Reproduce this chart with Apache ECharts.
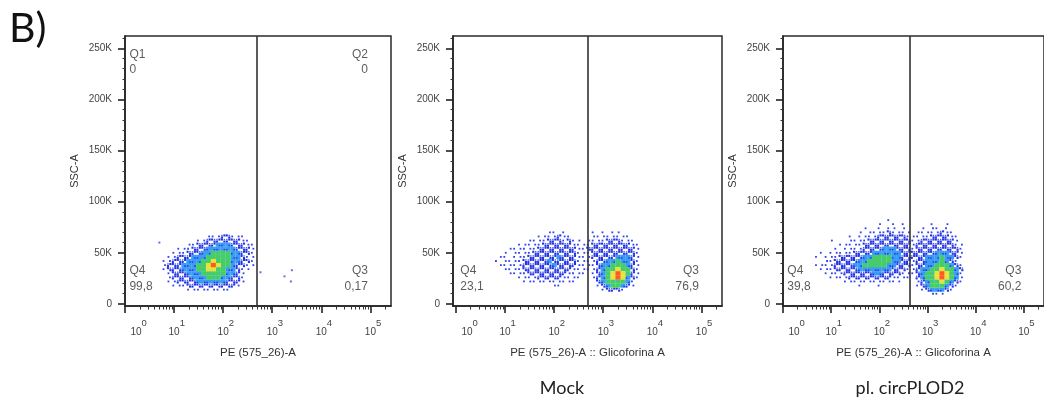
<!DOCTYPE html>
<html><head><meta charset="utf-8">
<script src="https://cdn.jsdelivr.net/npm/echarts@6/dist/echarts.min.js"></script>
<style>html,body{margin:0;padding:0;background:#fff}#c{width:1044px;height:403px}</style>
</head><body><div id="c"></div>
<script>
// ---------- data ----------
const xAxisNames = ['PE (575_26)-A', 'PE (575_26)-A :: Glicoforina A', 'PE (575_26)-A :: Glicoforina A'];
const yAxisName = 'SSC-A';
const sampleTitles = ['', 'Mock', 'pl. circPLOD2'];
const panelLetter = 'B)';
const xTickValues = [0, 1, 2, 3, 4, 5];          // log10 decades
const xTickExponents = ['0', '1', '2', '3', '4', '5'];
const yTickValues = [0, 50, 100, 150, 200, 250]; // thousands
const yTickLabels = ['0', '50K', '100K', '150K', '200K', '250K'];
const gateX = [2.68, 2.69, 2.64];                // log10 of the vertical gate
const q1Values = ['0', null, null];
const q2Values = ['0', null, null];
const q3Values = ['0,17', '76,9', '60,2'];
const q4Values = ['99,8', '23,1', '39,8'];

// density grids: cell = 0.1 decade x 4K
// 0 empty, 1 sparse dots, 2 blue, 3 light blue, 4 green, 5 yellow, 6 red
const cellDX = 0.1, cellDY = 4;
const density1X0 = 0.8, density1YTop = 66;
const density1Rows = [
  '0000000001112211100',
  '0000000112222222110',
  '0000011222233322211',
  '0001112223333332221',
  '0011122233444433221',
  '0112223334444433211',
  '1122233344544433221',
  '1222333445654432211',
  '1222333445544332110',
  '0122233344444332100',
  '0122223334443322100',
  '0112222333333222100',
  '0011122222222221000',
  '0000011111111100000'
];
const density2X0 = 0.8, density2YTop = 70;
const density2Rows = [
  '0000000000011010000' + '010101100000',
  '0000000001111211000' + '011111111000',
  '0000000111122212110' + '111122211100',
  '0000011111222222111' + '122222222110',
  '0001111112222222211' + '222222222210',
  '0010111122222222211' + '122222222210',
  '0110111222222322211' + '122222333210',
  '1011112222232222211' + '112233433210',
  '0111112222223222211' + '112334443210',
  '0011112222222222111' + '112344544210',
  '0001111222222221111' + '012345654210',
  '0000011112222211110' + '012345653210',
  '0000001111111111100' + '002344443100',
  '0000000000001100000' + '001234432100',
  '0000000000000000000' + '000122210000'
];
const density3X0 = 0.6, density3YTop = 82;
const density3Rows = [
  '000000000000000010000' + '000000000000',
  '000000000000001001010' + '000010010000',
  '000000000001001011010' + '001011010000',
  '000000000010111121111' + '011111211000',
  '000000001011112222221' + '111122221100',
  '000010001111222222222' + '112222222100',
  '000000111112222222222' + '122222222110',
  '000001011112222333222' + '122222222210',
  '001011111222233333322' + '222223332210',
  '010111222223344443322' + '222333433210',
  '000112222233444443322' + '122333432100',
  '011112222334444433222' + '122334443210',
  '001112222233333332221' + '123344544320',
  '000111122222233222211' + '123445654310',
  '000011112222222221111' + '023445654310',
  '000000011111111111100' + '012344543210',
  '000000000010001000000' + '012344432100',
  '000000000000000000000' + '001233321000',
  '000000000000000000000' + '000011100000'
];
const outliers1 = [[3.25, 27], [3.4, 33], [3.38, 22], [2.76, 31], [0.7, 60]];
const outliers2 = [];
const outliers3 = [];

// ---------- build ----------
const densityX0 = [density1X0, density2X0, density3X0];
const densityYTop = [density1YTop, density2YTop, density3YTop];
const densityRows = [density1Rows, density2Rows, density3Rows];
const outliers = [outliers1, outliers2, outliers3];
const levelColors = ['', '#2f43ee', '#2232e2', '#3a9cf4', '#46cf5a', '#e8e23c', '#ff5a1f'];

function cells(p) {
  const out = [];
  densityRows[p].forEach((row, r) => {
    for (let c = 0; c < row.length; c++) {
      const lvl = +row[c];
      if (lvl > 0) out.push([densityX0[p] + c * cellDX, densityYTop[p] - r * cellDY, lvl, (r + c) % 2]);
    }
  });
  out.sort((a, b) => a[2] - b[2]);
  return out;
}

const minorX = [];
for (let d = 0; d <= 5; d++) for (let k = 2; k <= 9; k++) {
  const v = d + Math.log10(k);
  if (v < 5.42) minorX.push(v);
}
const minorY = [];
for (let v = 10; v <= 260; v += 10) if (v % 50 !== 0) minorY.push(v);

const FONT = 'Liberation Sans, Arial, sans-serif';
const gridLeft = [125, 453, 783];
const gridWidth = [266, 269, 266];
const xMin = [0, -0.06, 0];
const xMax = 5.42, yMin = -2, yMax = 262;

function dot(x, y, s, color) {
  return { type: 'rect', shape: { x: x - s / 2, y: y - s / 2, width: s, height: s }, style: { fill: color } };
}

const grids = [], xAxes = [], yAxes = [], series = [];
for (let i = 0; i < 3; i++) {
  grids.push({ left: gridLeft[i], top: 36, width: gridWidth[i], height: 270, show: true,
    borderColor: '#2a2a2a', borderWidth: 1.5, backgroundColor: 'transparent' });
  xAxes.push({
    gridIndex: i, type: 'value', min: xMin[i], max: xMax, position: 'bottom',
    splitLine: { show: false },
    axisLine: { show: true, onZero: false, lineStyle: { color: '#222', width: 1.5 } },
    axisTick: { show: true, customValues: xTickValues, length: 7, lineStyle: { color: '#222', width: 1.6 } },
    axisLabel: {
      customValues: xTickValues, margin: 12,
      formatter: v => {
        const k = xTickValues.indexOf(Math.round(v));
        const e = xTickExponents[k];
        return (k === 0 ? '{pad| }' : '') + '{h|' + e + '}{b|10}{s|' + e + '}';
      },
      rich: {
        b: { fontSize: 10, fontFamily: FONT, color: '#444', lineHeight: 12, verticalAlign: 'bottom' },
        s: { fontSize: 9.5, fontFamily: FONT, color: '#444', lineHeight: 10, verticalAlign: 'top' },
        h: { fontSize: 9.5, fontFamily: FONT, color: 'rgba(0,0,0,0)', lineHeight: 19, verticalAlign: 'top' },
        pad: { width: 22, fontSize: 9 }
      }
    },
    name: xAxisNames[i], nameLocation: 'middle', nameGap: 41,
    nameTextStyle: { fontSize: 11.5, color: '#333', fontFamily: FONT }
  });
  xAxes.push({
    gridIndex: i, type: 'value', min: xMin[i], max: xMax, position: 'bottom',
    splitLine: { show: false }, axisLine: { show: false, onZero: false },
    axisTick: { show: true, customValues: minorX, length: 3.5, lineStyle: { color: '#333', width: 1 } },
    axisLabel: { show: false }
  });
  yAxes.push({
    gridIndex: i, type: 'value', min: yMin, max: yMax, position: 'left',
    splitLine: { show: false },
    axisLine: { show: true, onZero: false, lineStyle: { color: '#222', width: 1.5 } },
    axisTick: { show: true, customValues: yTickValues, length: 7, lineStyle: { color: '#222', width: 1.6 } },
    axisLabel: { customValues: yTickValues, margin: 13, fontSize: 10, color: '#444', fontFamily: FONT,
      formatter: v => yTickLabels[yTickValues.indexOf(Math.round(v))] },
    name: yAxisName, nameLocation: 'middle', nameGap: 45,
    nameTextStyle: { fontSize: 11, color: '#333', fontFamily: FONT }
  });
  yAxes.push({
    gridIndex: i, type: 'value', min: yMin, max: yMax, position: 'left',
    splitLine: { show: false }, axisLine: { show: false, onZero: false },
    axisTick: { show: true, customValues: minorY, length: 2.5, lineStyle: { color: '#333', width: 1 } },
    axisLabel: { show: false }
  });

  series.push({
    type: 'custom', xAxisIndex: 2 * i, yAxisIndex: 2 * i, clip: true,
    data: cells(i), encode: { x: 0, y: 1 },
    renderItem: (params, api) => {
      const lvl = api.value(2), par = api.value(3);
      const c = api.coord([api.value(0), api.value(1)]);
      const s = api.size([cellDX, cellDY]);
      const col = levelColors[lvl];
      const qx = s[0] / 4, qy = s[1] / 4;
      let children;
      if (lvl === 1) {
        children = [dot(c[0] + (par ? qx : -qx) * 0.6, c[1], 1.8, col)];
      } else if (lvl === 2) {
        children = par
          ? [dot(c[0] - qx, c[1] - qy, 2.1, col), dot(c[0] + qx, c[1] + qy, 2.1, col), dot(c[0] + qx, c[1] - qy, 1.4, '#4b5cf2')]
          : [dot(c[0] + qx, c[1] - qy, 2.1, col), dot(c[0] - qx, c[1] + qy, 2.1, col), dot(c[0] - qx, c[1] - qy, 1.4, '#4b5cf2')];
      } else {
        const w = s[0] * 1.04, h = s[1] * 1.04;
        children = [{ type: 'rect', shape: { x: c[0] - w / 2, y: c[1] - h / 2, width: w, height: h }, style: { fill: col } }];
        if (lvl === 3) children.push(dot(c[0] + (par ? qx : -qx), c[1] + qy, 1.6, '#2a3ae0'));
        if (lvl === 4) children.push(dot(c[0] + (par ? -qx : qx), c[1] - qy, 1.6, '#42b8e8'));
      }
      return { type: 'group', children: children };
    }
  });
  if (outliers[i].length) series.push({
    type: 'scatter', xAxisIndex: 2 * i, yAxisIndex: 2 * i, data: outliers[i],
    symbol: 'rect', symbolSize: 2, itemStyle: { color: '#3a4cf0' }
  });

  const labels = [];
  const lab = (x, y, t, align) => labels.push({ value: [x, y], label: { formatter: t, align: align } });
  if (q1Values[i] !== null) { lab(0.09, 243.5, 'Q1', 'left'); lab(0.09, 228.8, q1Values[i], 'left'); }
  if (q2Values[i] !== null) { lab(4.95, 243.5, 'Q2', 'right'); lab(4.95, 228.8, q2Values[i], 'right'); }
  lab(0.09, 33, 'Q4', 'left'); lab(0.09, 16.5, q4Values[i], 'left');
  lab(4.95, 33, 'Q3', 'right'); lab(4.95, 16.5, q3Values[i], 'right');
  series.push({
    type: 'scatter', xAxisIndex: 2 * i, yAxisIndex: 2 * i, symbolSize: 0, data: labels, silent: true,
    label: { show: true, position: 'inside', verticalAlign: 'middle', fontSize: 12, color: '#333', fontFamily: FONT },
    markLine: { silent: true, symbol: ['none', 'none'], label: { show: false },
      lineStyle: { color: '#333', width: 1.6, type: 'solid' }, data: [{ xAxis: gateX[i] }] }
  });
}

const graphics = [
  { type: 'text', x: 9, y: 29, style: { text: panelLetter, fontSize: 41, fontFamily: 'Lato, sans-serif', fill: '#111', align: 'left', verticalAlign: 'middle' } },
  { type: 'text', x: 562, y: 388, style: { text: sampleTitles[1], fontSize: 18, fontFamily: 'Lato, sans-serif', fill: '#222', align: 'center', verticalAlign: 'middle' } },
  { type: 'text', x: 910, y: 388, style: { text: sampleTitles[2], fontSize: 18, fontFamily: 'Lato, sans-serif', fill: '#222', align: 'center', verticalAlign: 'middle' } }
];

const chart = echarts.init(document.getElementById('c'), null, { renderer: 'canvas' });
chart.setOption({
  animation: false, backgroundColor: '#fff',
  grid: grids, xAxis: xAxes, yAxis: yAxes, series: series, graphic: graphics
});
</script></body></html>
